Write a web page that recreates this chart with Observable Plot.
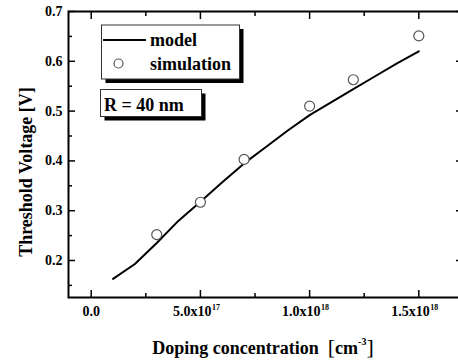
<!DOCTYPE html>
<html><head><meta charset="utf-8">
<script src="https://cdn.jsdelivr.net/npm/d3@7"></script>
<script src="https://cdn.jsdelivr.net/npm/@observablehq/plot@0.6"></script>
<style>body{margin:0;background:#fff}svg{display:block}</style>
</head><body><div id="chart"></div>
<script>
// ---- data ----
const modelX = [1e17, 2e17, 3e17, 4e17, 5e17, 6e17, 7e17, 8e17, 9e17, 1e18, 1.1e18, 1.2e18, 1.3e18, 1.4e18, 1.5e18];
const modelY = [0.163, 0.193, 0.235, 0.280, 0.318, 0.357, 0.395, 0.428, 0.461, 0.492, 0.518, 0.544, 0.570, 0.596, 0.620];
const simX = [3e17, 5e17, 7e17, 1e18, 1.2e18, 1.5e18];
const simY = [0.252, 0.317, 0.403, 0.510, 0.563, 0.651];
const yTicks = [0.2, 0.3, 0.4, 0.5, 0.6, 0.7];
const yMinor = [0.15, 0.25, 0.35, 0.45, 0.55, 0.65];
const xTicks = [0, 5e17, 1e18, 1.5e18];
const xMinor = [2.5e17, 7.5e17, 1.25e18];
const xTickBase = ["0.0", "5.0x10", "1.0x10", "1.5x10"];
const xTickExp = ["", "17", "18", "18"];
const legendLabels = ["model", "simulation"];
const noteText = "R = 40 nm";

const FONT = '"Liberation Serif", "Times New Roman", serif';
const model = modelX.map((x, i) => ({x, y: modelY[i]}));
const sim = simX.map((x, i) => ({x, y: simY[i]}));
const xLab = xTicks.map((x, i) => ({x, base: xTickBase[i], exp: xTickExp[i]}));
const blank = () => "";

const svg = Plot.plot({
  width: 458, height: 361,
  marginLeft: 68, marginRight: -4, marginTop: 11, marginBottom: 64,
  x: {domain: [-1.04e17, 1.70e18]},
  y: {domain: [0.1257, 0.7]},
  style: {fontFamily: FONT, fontWeight: "bold", background: "white", color: "black"},
  marks: [
    Plot.axisX(xTicks, {anchor: "bottom", tickSize: -7, tickFormat: blank, label: null, strokeWidth: 1.5}),
    Plot.axisX(xMinor, {anchor: "bottom", tickSize: -4, tickFormat: blank, label: null, strokeWidth: 1.5}),
    Plot.axisX(xTicks, {anchor: "top", tickSize: -7, tickFormat: blank, label: null, strokeWidth: 1.5}),
    Plot.axisX(xMinor, {anchor: "top", tickSize: -4, tickFormat: blank, label: null, strokeWidth: 1.5}),
    Plot.axisY(yTicks, {anchor: "left", tickSize: -7, tickFormat: blank, label: null, strokeWidth: 1.5}),
    Plot.axisY(yMinor, {anchor: "left", tickSize: -4, tickFormat: blank, label: null, strokeWidth: 1.5}),
    Plot.axisY(yTicks, {anchor: "right", tickSize: -7, tickFormat: blank, label: null, strokeWidth: 1.5}),
    Plot.axisY(yMinor, {anchor: "right", tickSize: -4, tickFormat: blank, label: null, strokeWidth: 1.5}),
    Plot.axisY(yTicks, {anchor: "left", tickSize: 0, tickPadding: 6, tickFormat: d => d.toFixed(1), label: null, fontSize: 14}),
    Plot.text(xLab.filter(d => !d.exp), {x: "x", text: "base", frameAnchor: "bottom", dy: 18, fontSize: 14, textAnchor: "middle"}),
    Plot.text(xLab.filter(d => d.exp), {x: "x", text: "base", frameAnchor: "bottom", dy: 18, dx: 11, fontSize: 14, textAnchor: "end"}),
    Plot.text(xLab.filter(d => d.exp), {x: "x", text: "exp", frameAnchor: "bottom", dy: 12, dx: 11.5, fontSize: 8, textAnchor: "start"}),
    Plot.line(model, {x: "x", y: "y", stroke: "black", strokeWidth: 2}),
    Plot.dot(sim, {x: "x", y: "y", r: 5, stroke: "#555", fill: "white", strokeWidth: 1.2}),
    Plot.frame({stroke: "black", strokeWidth: 2})
  ]
});

const s = d3.select(svg);
const g = s.append("g").attr("font-family", FONT).attr("font-weight", "bold").attr("fill", "black")
  .attr("text-anchor", "start");

// axis titles
g.append("text").attr("transform", "translate(32,172) rotate(-90)").attr("text-anchor", "middle")
  .attr("font-size", 18).text("Threshold Voltage [V]");
const xl = g.append("text").attr("x", 263).attr("y", 354).attr("text-anchor", "middle").attr("font-size", 18);
xl.append("tspan").text("Doping concentration  ");
xl.append("tspan").attr("font-size", 22).attr("font-weight", "normal").text("[");
xl.append("tspan").text("cm");
xl.append("tspan").attr("font-size", 10).attr("dy", -9).text("-3");
xl.append("tspan").attr("font-size", 22).attr("font-weight", "normal").attr("dy", 9).text("]");

// legend box
function box(x, y, w, h) {
  g.append("rect").attr("x", x + 4).attr("y", y + 4).attr("width", w).attr("height", h).attr("fill", "black");
  g.append("rect").attr("x", x).attr("y", y).attr("width", w).attr("height", h).attr("fill", "white")
    .attr("stroke", "#333").attr("stroke-width", 1);
}
box(101.5, 25, 138, 54);
g.append("line").attr("x1", 103).attr("x2", 146).attr("y1", 40).attr("y2", 40).attr("stroke", "black").attr("stroke-width", 2);
g.append("text").attr("x", 150).attr("y", 46).attr("font-size", 18).attr("text-anchor", "start").text(legendLabels[0]);
g.append("circle").attr("cx", 118.5).attr("cy", 63.5).attr("r", 4.5).attr("fill", "white").attr("stroke", "#555").attr("stroke-width", 1.2);
g.append("text").attr("x", 150).attr("y", 70).attr("font-size", 18).attr("text-anchor", "start").text(legendLabels[1]);

box(100.5, 89.5, 101, 27);
g.append("text").attr("x", 104).attr("y", 110.5).attr("font-size", 18).attr("text-anchor", "start").text(noteText);

document.getElementById("chart").append(svg);
</script>
</body></html>
